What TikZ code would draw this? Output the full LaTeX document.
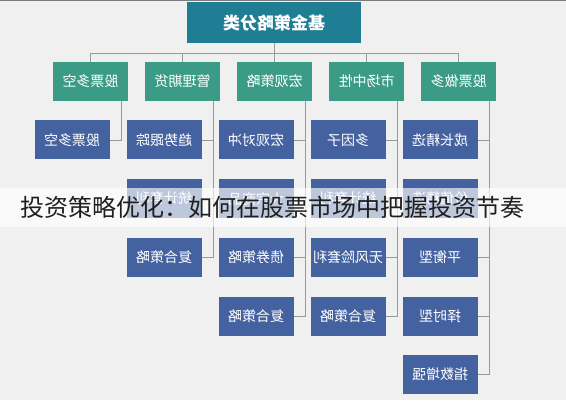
\documentclass[tikz,border=0pt]{standalone}
\usepackage{graphicx}
\usepackage{fontspec}
\setmainfont{Noto Sans CJK SC}
\usetikzlibrary{positioning}
\definecolor{bgGray}{HTML}{F0F0F0}
\definecolor{titleTeal}{HTML}{1F7E93}
\definecolor{catGreen}{HTML}{3A9C86}
\definecolor{itemBlue}{HTML}{4562A0}
\definecolor{linkGray}{HTML}{9A9A9A}
\newcommand{\mirtxt}[1]{\reflectbox{#1}}

\begin{document}
\begin{tikzpicture}[x=1pt, y=-1pt,
rootbox/.style={rectangle, fill=titleTeal, text=white, minimum width=174pt, minimum height=41pt, font=\fontsize{17}{20}\selectfont\bfseries},
catbox/.style={rectangle, fill=catGreen, text=white, minimum width=75pt, minimum height=39pt, inner sep=0pt, font=\fontsize{14}{17}\selectfont},
itembox/.style={rectangle, fill=itemBlue, text=white, minimum width=75pt, minimum height=39pt, inner sep=0pt, font=\fontsize{14}{17}\selectfont},
link/.style={draw=linkGray, line width=0.8pt},
]
\useasboundingbox (0,0) rectangle (566,400);
\fill[bgGray] (0,0) rectangle (566,400);
\draw[linkGray!80!black, line width=1pt] (0,0.5) -- (566,0.5);

% title and categories
\node[rootbox] (root) at (274,22.5) {\mirtxt{基金策略分类}};
\node[catbox] (c1) at (90.5,81.5) {\mirtxt{股票多空}};
\node[catbox] (c2) [right=16.6pt of c1] {\mirtxt{管理期货}};
\node[catbox] (c3) [right=16.6pt of c2] {\mirtxt{宏观策略}};
\node[catbox] (c4) [right=16.6pt of c3] {\mirtxt{市场中性}};
\node[catbox] (c5) [right=16.6pt of c4] {\mirtxt{股票做多}};

% items
\node[itembox] (b11) [below=19pt of c1, xshift=-18.5pt] {\mirtxt{股票多空}};

\node[itembox] (b21) [below=19pt of c2, xshift=-18.5pt] {\mirtxt{趋势跟踪}};
\node[itembox] (b22) [below=19.3pt of b21] {\mirtxt{统计套利}};
\node[itembox] (b23) [below=19.3pt of b22] {\mirtxt{复合策略}};

\node[itembox] (b31) [below=19pt of c3, xshift=-18.5pt] {\mirtxt{宏观对冲}};
\node[itembox] (b32) [below=19.3pt of b31] {\mirtxt{大宗商品}};
\node[itembox] (b33) [below=19.3pt of b32] {\mirtxt{债券策略}};
\node[itembox] (b34) [below=19.3pt of b33] {\mirtxt{复合策略}};

\node[itembox] (b41) [below=19pt of c4, xshift=-18.5pt] {\mirtxt{多因子}};
\node[itembox] (b42) [below=19.3pt of b41] {\mirtxt{统计套利}};
\node[itembox] (b43) [below=19.3pt of b42] {\mirtxt{无风险套利}};
\node[itembox] (b44) [below=19.3pt of b43] {\mirtxt{复合策略}};

\node[itembox] (b51) [below=19pt of c5, xshift=-18.5pt] {\mirtxt{成长精选}};
\node[itembox] (b52) [below=19.3pt of b51] {\mirtxt{价值精选}};
\node[itembox] (b53) [below=19.3pt of b52] {\mirtxt{平衡型}};
\node[itembox] (b54) [below=19.3pt of b53] {\mirtxt{择时型}};
\node[itembox] (b55) [below=19.3pt of b54] {\mirtxt{指数增强}};

% connectors
\coordinate (bus) at (0,53);
\draw[link] (root.south) -- (root.south |- bus);
\draw[link] (c1.north) -- (c1.north |- bus) -| (c5.north);
\foreach \c in {c2,c3,c4}
  \draw[link] (\c.north) -- (\c.north |- bus);

\foreach \c/\last in {1/1,2/3,3/4,4/4,5/5} {
  \coordinate (t\c) at ([xshift=-7pt]c\c.south east);
  \draw[link] (t\c) |- (b\c\last.east);
  \foreach \r in {1,...,\last}
    \draw[link] (b\c\r.east) -- (b\c\r.east -| t\c);
}

% caption band
\fill[white, opacity=0.65] (0,188) rectangle (566,227);
\node[anchor=west, inner sep=0pt, text=black!88, font=\fontsize{24}{28}\selectfont] (caption) at (20,207) {投资策略优化：如何在股票市场中把握投资节奏};
\end{tikzpicture}
\end{document}
